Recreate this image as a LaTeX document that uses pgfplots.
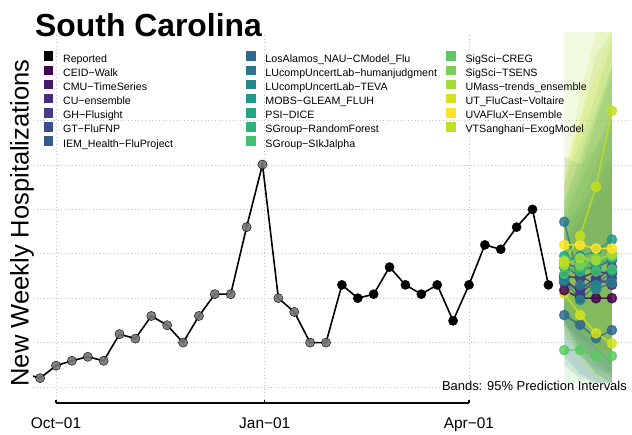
\documentclass[border=0pt]{standalone}
\usepackage{fontspec}
\setmainfont{Liberation Sans}
\usepackage{pgfplots}
\pgfplotsset{compat=1.18}

\definecolor{cCEID}{HTML}{440154}
\definecolor{cCMU}{HTML}{481A6C}
\definecolor{cCU}{HTML}{472D7B}
\definecolor{cGH}{HTML}{433E85}
\definecolor{cGT}{HTML}{3E4C8A}
\definecolor{cIEM}{HTML}{38598C}
\definecolor{cLANL}{HTML}{31688E}
\definecolor{cLUH}{HTML}{2A788E}
\definecolor{cLUT}{HTML}{23888E}
\definecolor{cMOBS}{HTML}{1F978B}
\definecolor{cPSI}{HTML}{22A884}
\definecolor{cSGRF}{HTML}{2EB37C}
\definecolor{cSGSI}{HTML}{44BF70}
\definecolor{cSSCR}{HTML}{5EC962}
\definecolor{cSSTS}{HTML}{7AD151}
\definecolor{cUMass}{HTML}{A5DB36}
\definecolor{cUT}{HTML}{D2E21B}
\definecolor{cUVA}{HTML}{FDE725}
\definecolor{cVT}{HTML}{C2DF23}
\definecolor{gridc}{HTML}{C4C4C4}
\definecolor{oldpt}{HTML}{737373}

\pgfplotsset{
  mykey/.style={legend image code/.code={\fill[#1] (0bp,-0.42bp) rectangle (8.5bp,8.08bp); \path (18.7bp,0bp);}},
  band/.style={draw=none, fill=#1, fill opacity=0.15, forget plot},
  fc/.style={color=#1, line width=1.5bp, mark=*, mark size=4.6bp, mark options={draw=none}, opacity=0.82, forget plot},
}

\begin{document}
\begin{tikzpicture}
\useasboundingbox (0bp,0bp) rectangle (632bp,435bp);
\begin{axis}[
  at={(33bp,35bp)}, anchor=south west,
  scale only axis, width=599bp, height=367.3bp,
  xmin=-10.14, xmax=253.85, ymin=70.7, ymax=897.9,
  axis line style={draw=none},
  xtick={0,92,182}, xticklabels={Oct−01,Jan−01,Apr−01},
  ytick={100,200,300,400,500,600,700}, yticklabels={},
  major tick length=0pt, tick style={draw=none},
  xmajorgrids, ymajorgrids,
  grid style={gridc, line width=0.8bp, dash pattern=on 0.9bp off 2.6bp},
  xticklabel style={font=\fontsize{15.5}{18}\selectfont, anchor=north, inner sep=0pt, yshift=-18bp},
  legend columns=3,
  legend cell align=left,
  legend style={at={(0.01836,0.9491)}, anchor=north west, draw=none, fill=none,
    inner sep=0pt, outer sep=0pt, row sep=0pt, column sep=0pt,
    font=\fontsize{10.7}{12}\selectfont,
    nodes={inner sep=0pt, text height=8.3bp, text depth=3.5bp}},
]
% ---------- prediction bands ----------
\addplot[band=cCEID] coordinates {(224,420)(231,470)(238,520)(245,560)(245,170)(238,190)(231,210)(224,240)} -- cycle;
\addplot[band=cCMU] coordinates {(224,440)(231,500)(238,560)(245,620)(245,170)(238,200)(231,230)(224,270)} -- cycle;
\addplot[band=cCU] coordinates {(224,430)(231,480)(238,540)(245,600)(245,130)(238,160)(231,200)(224,250)} -- cycle;
\addplot[band=cGH] coordinates {(224,460)(231,520)(238,600)(245,680)(245,120)(238,150)(231,190)(224,240)} -- cycle;
\addplot[band=cGT] coordinates {(224,480)(231,560)(238,640)(245,720)(245,150)(238,180)(231,220)(224,270)} -- cycle;
\addplot[band=cIEM] coordinates {(224,520)(231,620)(238,720)(245,820)(245,110)(238,130)(231,180)(224,250)} -- cycle;
\addplot[band=cLANL] coordinates {(224,360)(231,380)(238,400)(245,430)(245,109)(238,110)(231,130)(224,170)} -- cycle;
\addplot[band=cLUH] coordinates {(224,620)(231,600)(238,640)(245,700)(245,110)(238,110)(231,120)(224,150)} -- cycle;
\addplot[band=cLUT] coordinates {(224,480)(231,500)(238,560)(245,640)(245,130)(238,140)(231,170)(224,220)} -- cycle;
\addplot[band=cMOBS] coordinates {(224,520)(231,600)(238,700)(245,800)(245,230)(238,230)(231,240)(224,260)} -- cycle;
\addplot[band=cPSI] coordinates {(224,560)(231,650)(238,760)(245,880)(245,110)(238,130)(231,170)(224,240)} -- cycle;
\addplot[band=cSGRF] coordinates {(224,500)(231,580)(238,700)(245,820)(245,170)(238,190)(231,220)(224,260)} -- cycle;
\addplot[band=cSGSI] coordinates {(224,470)(231,560)(238,620)(245,700)(245,150)(238,180)(231,210)(224,250)} -- cycle;
\addplot[band=cSSCR] coordinates {(224,300)(231,340)(238,380)(245,420)(245,109)(238,109)(231,109)(224,109)} -- cycle;
\addplot[band=cSSTS] coordinates {(224,560)(231,700)(238,850)(245,900)(245,130)(238,150)(231,180)(224,240)} -- cycle;
\addplot[band=cUMass] coordinates {(224,900)(231,900)(238,900)(245,900)(245,190)(238,210)(231,240)(224,270)} -- cycle;
\addplot[band=cUT] coordinates {(224,420)(231,400)(238,380)(245,380)(245,109)(238,120)(231,160)(224,220)} -- cycle;
\addplot[band=cUVA] coordinates {(224,600)(231,700)(238,800)(245,900)(245,160)(238,190)(231,230)(224,280)} -- cycle;
\addplot[band=cVT] coordinates {(224,560)(231,760)(238,900)(245,900)(245,380)(238,330)(231,300)(224,290)} -- cycle;
% ---------- reported ----------
\addplot[black, line width=1.6bp, forget plot] coordinates {(-14,130)(-7,120)(0,148)(7,159)(14,168)(21,159)(28,219)(35,209)(42,260)(49,239)(56,200)(63,260)(70,309)(77,309)(84,460)(91,601)(98,300)(105,269)(112,200)(119,200)(126,330)(133,300)(140,309)(147,370)(154,330)(161,309)(168,330)(175,249)(182,330)(189,420)(196,410)(203,460)(210,500)(217,330)};
\addplot[only marks, mark=*, mark size=4.6bp, mark options={draw=none, fill=oldpt, fill opacity=0.9}, forget plot] coordinates {(-7,120)(0,148)(7,159)(14,168)(21,159)(28,219)(35,209)(42,260)(49,239)(56,200)(63,260)(70,309)(77,309)(84,460)(91,601)(98,300)(105,269)(112,200)(119,200)};
\addplot[only marks, mark=*, mark size=4.6bp, mark options={draw=none, fill=black}, forget plot] coordinates {(126,330)(133,300)(140,309)(147,370)(154,330)(161,309)(168,330)(175,249)(182,330)(189,420)(196,410)(203,460)(210,500)(217,330)};
% ---------- forecasts ----------
\addplot[fc=cSSCR] coordinates {(224,183)(231,183)(238,170)(245,170)};
\addplot[fc=cLANL] coordinates {(224,262)(231,240)(238,210)(245,228)};
\addplot[fc=cUT] coordinates {(224,311)(231,262)(238,221)(245,198)};
\addplot[fc=cCEID] coordinates {(224,318)(231,300)(238,300)(245,300)};
\addplot[fc=cCMU] coordinates {(224,350)(231,345)(238,360)(245,355)};
\addplot[fc=cCU] coordinates {(224,335)(231,320)(238,345)(245,330)};
\addplot[fc=cGH] coordinates {(224,345)(231,310)(238,340)(245,370)};
\addplot[fc=cGT] coordinates {(224,370)(231,350)(238,330)(245,345)};
\addplot[fc=cIEM] coordinates {(224,380)(231,365)(238,370)(245,385)};
\addplot[fc=cLUH] coordinates {(224,472)(231,330)(238,320)(245,335)};
\addplot[fc=cLUT] coordinates {(224,340)(231,296)(238,330)(245,360)};
\addplot[fc=cMOBS] coordinates {(224,380)(231,395)(238,405)(245,432)};
\addplot[fc=cPSI] coordinates {(224,395)(231,385)(238,375)(245,390)};
\addplot[fc=cSGRF] coordinates {(224,370)(231,360)(238,385)(245,400)};
\addplot[fc=cSGSI] coordinates {(224,355)(231,370)(238,360)(245,365)};
\addplot[fc=cSSTS] coordinates {(224,385)(231,375)(238,390)(245,395)};
\addplot[fc=cUMass] coordinates {(224,375)(231,390)(238,385)(245,400)};
\addplot[fc=cUVA] coordinates {(224,420)(231,420)(238,412)(245,412)};
\addplot[fc=cVT] coordinates {(224,382)(231,440)(238,551)(245,722)};
% ---------- legend (row-wise order for 3 columns) ----------
\addlegendimage{mykey=black}\addlegendentry{\makebox[183.3bp][l]{Reported}}
\addlegendimage{mykey=cLANL}\addlegendentry{\makebox[181bp][l]{LosAlamos\_NAU−CModel\_Flu}}
\addlegendimage{mykey=cSSCR}\addlegendentry{SigSci−CREG}
\addlegendimage{mykey=cCEID}\addlegendentry{\makebox[183.3bp][l]{CEID−Walk}}
\addlegendimage{mykey=cLUH}\addlegendentry{\makebox[181bp][l]{LUcompUncertLab−humanjudgment}}
\addlegendimage{mykey=cSSTS}\addlegendentry{SigSci−TSENS}
\addlegendimage{mykey=cCMU}\addlegendentry{\makebox[183.3bp][l]{CMU−TimeSeries}}
\addlegendimage{mykey=cLUT}\addlegendentry{\makebox[181bp][l]{LUcompUncertLab−TEVA}}
\addlegendimage{mykey=cUMass}\addlegendentry{UMass−trends\_ensemble}
\addlegendimage{mykey=cCU}\addlegendentry{\makebox[183.3bp][l]{CU−ensemble}}
\addlegendimage{mykey=cMOBS}\addlegendentry{\makebox[181bp][l]{MOBS−GLEAM\_FLUH}}
\addlegendimage{mykey=cUT}\addlegendentry{UT\_FluCast−Voltaire}
\addlegendimage{mykey=cGH}\addlegendentry{\makebox[183.3bp][l]{GH−Flusight}}
\addlegendimage{mykey=cPSI}\addlegendentry{\makebox[181bp][l]{PSI−DICE}}
\addlegendimage{mykey=cUVA}\addlegendentry{UVAFluX−Ensemble}
\addlegendimage{mykey=cGT}\addlegendentry{\makebox[183.3bp][l]{GT−FluFNP}}
\addlegendimage{mykey=cSGRF}\addlegendentry{\makebox[181bp][l]{SGroup−RandomForest}}
\addlegendimage{mykey=cVT}\addlegendentry{VTSanghani−ExogModel}
\addlegendimage{mykey=cIEM}\addlegendentry{\makebox[183.3bp][l]{IEM\_Health−FluProject}}
\addlegendimage{mykey=cSGSI}\addlegendentry{\makebox[181bp][l]{SGroup−SIkJalpha}}
\addlegendimage{empty legend}\addlegendentry{}
\coordinate (t0) at (axis cs:0,70.7);
\coordinate (t1) at (axis cs:92,70.7);
\coordinate (t2) at (axis cs:182,70.7);
\end{axis}
% x axis line (base-R style, between first and last tick)
\draw[line width=1.4bp] ([yshift=-3bp]t0) -- ([yshift=-3bp]t2);
\foreach \t in {t0,t1,t2} {\draw[line width=1.4bp] ([yshift=-3bp]\t) -- ([yshift=0.3bp]\t);}
\node[anchor=base west, inner sep=0pt, font=\fontsize{32}{36}\selectfont\bfseries] at (35bp,398bp) {South Carolina};
\node[rotate=90, anchor=north, inner sep=0pt, font=\fontsize{25.6}{28}\selectfont] at (10bp,212bp) {New Weekly Hospitalizations};
\node[anchor=base east, inner sep=0pt, font=\fontsize{13}{15}\selectfont] at (627bp,44.5bp) {Bands: 95\% Prediction Intervals};
\end{tikzpicture}
\end{document}
